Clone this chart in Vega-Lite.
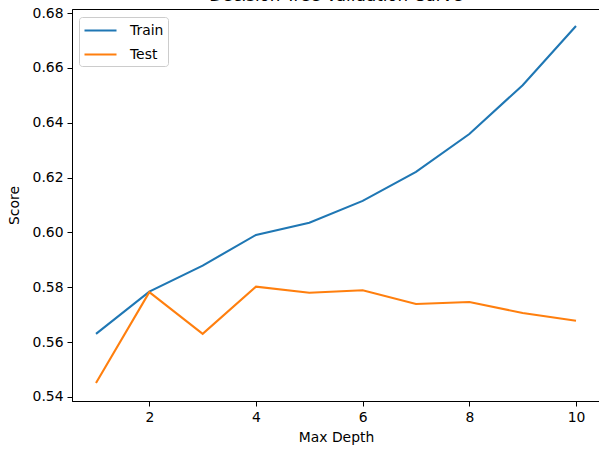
{
  "$schema": "https://vega.github.io/schema/vega-lite/v6.json",
  "autosize": "none",
  "width": 528,
  "height": 392,
  "padding": {"left": 72, "top": 9, "right": 0, "bottom": 52},
  "background": "white",
  "config": {
    "font": "DejaVu Sans",
    "view": {"stroke": "black", "strokeWidth": 1},
    "axis": {"grid": false, "domainColor": "black", "tickColor": "black", "labelColor": "black", "titleColor": "black", "labelFontSize": 13.9, "titleFontSize": 13.9, "titleFontWeight": "normal", "tickSize": 5, "labelPadding": 4, "labelFont": "DejaVu Sans", "titleFont": "DejaVu Sans"}
  },
  "title": {"text": "Decision Tree Validation Curve", "fontSize": 16.7, "fontWeight": "normal", "font": "DejaVu Sans", "color": "black", "anchor": "middle", "frame": "group", "offset": -12, "baseline": "alphabetic"},
  "data": {"values": [
    {"depth": 1, "score": 0.5630, "set": "Train"},
    {"depth": 2, "score": 0.5784, "set": "Train"},
    {"depth": 3, "score": 0.5879, "set": "Train"},
    {"depth": 4, "score": 0.5991, "set": "Train"},
    {"depth": 5, "score": 0.6035, "set": "Train"},
    {"depth": 6, "score": 0.6115, "set": "Train"},
    {"depth": 7, "score": 0.6221, "set": "Train"},
    {"depth": 8, "score": 0.6359, "set": "Train"},
    {"depth": 9, "score": 0.6537, "set": "Train"},
    {"depth": 10, "score": 0.6753, "set": "Train"},
    {"depth": 1, "score": 0.5451, "set": "Test"},
    {"depth": 2, "score": 0.5782, "set": "Test"},
    {"depth": 3, "score": 0.5630, "set": "Test"},
    {"depth": 4, "score": 0.5802, "set": "Test"},
    {"depth": 5, "score": 0.5780, "set": "Test"},
    {"depth": 6, "score": 0.5789, "set": "Test"},
    {"depth": 7, "score": 0.5739, "set": "Test"},
    {"depth": 8, "score": 0.5746, "set": "Test"},
    {"depth": 9, "score": 0.5706, "set": "Test"},
    {"depth": 10, "score": 0.5678, "set": "Test"}
  ]},
  "mark": {"type": "line", "strokeWidth": 2.1},
  "encoding": {
    "x": {"field": "depth", "type": "quantitative", "title": "Max Depth",
      "scale": {"domain": [0.55, 10.45], "nice": false, "zero": false},
      "axis": {"values": [2, 4, 6, 8, 10], "titlePadding": 7}},
    "y": {"field": "score", "type": "quantitative", "title": "Score",
      "scale": {"domain": [0.5385, 0.6815], "nice": false, "zero": false},
      "axis": {"values": [0.54, 0.56, 0.58, 0.60, 0.62, 0.64, 0.66, 0.68], "format": ".2f", "titlePadding": 11}},
    "color": {"field": "set", "type": "nominal",
      "scale": {"domain": ["Train", "Test"], "range": ["#1f77b4", "#ff7f0e"]},
      "legend": {"title": null, "orient": "none", "legendX": 7, "legendY": 8, "symbolType": "M-1,0L3,0", "symbolSize": 256, "symbolStrokeWidth": 2.1, "labelFontSize": 13.9, "labelFont": "DejaVu Sans", "labelColor": "black", "labelOffset": 28, "padding": 4, "rowPadding": 7, "strokeColor": "#cccccc", "fillColor": "white", "cornerRadius": 3}}
  }
}
